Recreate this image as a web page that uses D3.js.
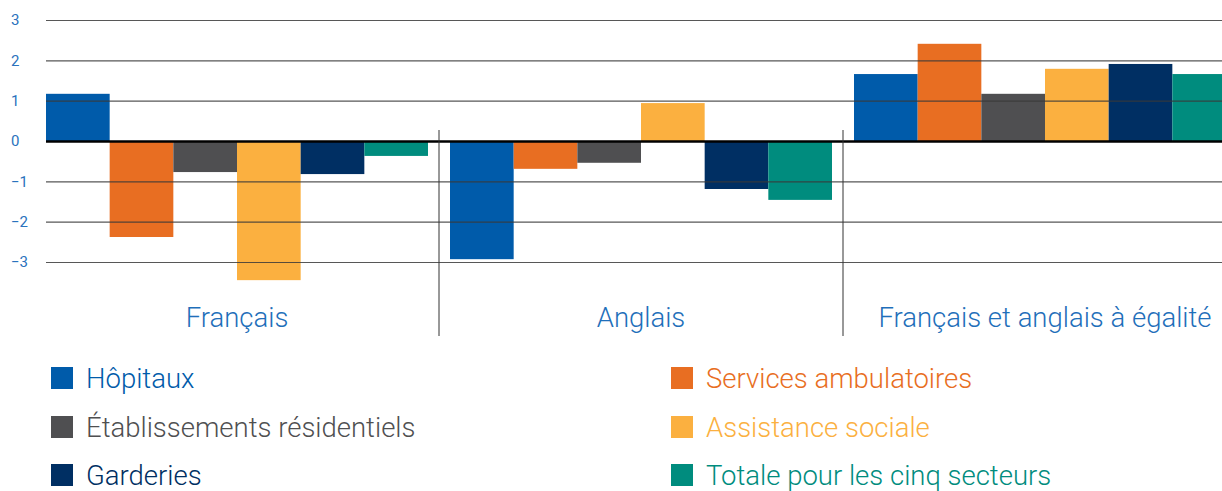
<!DOCTYPE html>
<html>
<head>
<meta charset="utf-8">
<script src="https://cdn.jsdelivr.net/npm/d3@7"></script>
<style>
  body { margin: 0; background: #fff; }
  text { font-family: Roboto, "Liberation Sans", sans-serif; }
</style>
</head>
<body>
<div id="chart"></div>
<script>
// groups along the x axis
var groups = ["Français", "Anglais", "Français et anglais à égalité"]
var series = ["Hôpitaux", "Services ambulatoires", "Établissements résidentiels",
              "Assistance sociale", "Garderies", "Totale pour les cinq secteurs"]
var colors = ["#005BAA", "#E86E22", "#4F4F51", "#FBB040", "#002F63", "#008C7E"]

// one array per series, values in group order
var hopitaux     = [1.17, -2.93, 1.66]
var ambulatoires = [-2.38, -0.69, 2.41]
var residentiels = [-0.77, -0.54, 1.17]
var assistance   = [-3.45, 0.94, 1.79]
var garderies    = [-0.82, -1.19, 1.91]
var totale       = [-0.37, -1.46, 1.66]
var yTicks = [-3, -2, -1, 0, 1, 2, 3]

var values = [hopitaux, ambulatoires, residentiels, assistance, garderies, totale]

var W = 1222, H = 491
var left = 46, right = 1222

var svg = d3.select("#chart").append("svg")
    .attr("width", W)
    .attr("height", H)

var y = d3.scaleLinear().domain([-3, 3]).range([262, 20])

var x0 = d3.scaleBand().domain(groups).range([left, 1236]).paddingInner(22 / 404)
var x1 = d3.scaleBand().domain(series).range([0, x0.bandwidth()])

var clip = svg.append("clipPath").attr("id", "plot")
  .append("rect").attr("x", 0).attr("y", 0).attr("width", right).attr("height", H)

var bars = svg.append("g").attr("clip-path", "url(#plot)")

groups.forEach(function(g, gi) {
  series.forEach(function(s, si) {
    var v = values[si][gi]
    bars.append("rect")
        .attr("x", x0(g) + x1(s))
        .attr("width", x1.bandwidth())
        .attr("y", y(Math.max(0, v)))
        .attr("height", Math.abs(y(v) - y(0)))
        .attr("fill", colors[si])
  })
})

// grid lines on top of the bars
var yAxis = d3.axisLeft(y).tickValues(yTicks).tickSize(-(right - left)).tickFormat(d3.format("d"))
var ag = svg.append("g")
    .attr("transform", "translate(" + left + ",0)")
    .call(yAxis)
ag.select(".domain").remove()
ag.selectAll(".tick line")
    .attr("stroke", function(d) { return d == 0 ? "#000" : "#3a3a3a" })
    .attr("stroke-width", function(d) { return d == 0 ? 2.5 : 1.2 })
    .attr("opacity", function(d) { return d == 0 ? 1 : 0.85 })
ag.selectAll(".tick text")
    .attr("x", -35)
    .attr("text-anchor", "start")
    .attr("fill", "#2a72bd")
    .style("font-size", "15px")

// separators between groups
for (var i = 1; i < groups.length; i++) {
  var sx = x0(groups[i]) - x0.step() * x0.paddingInner() / 2
  svg.append("line")
      .attr("x1", sx).attr("x2", sx)
      .attr("y1", 130).attr("y2", 336)
      .attr("stroke", "#333")
      .attr("stroke-width", 1)
}

// group labels
svg.selectAll(".glabel")
    .data(groups)
    .enter().append("text")
    .attr("class", "glabel")
    .attr("x", function(d) { return x0(d) + x0.bandwidth() / 2 })
    .attr("y", 327)
    .attr("text-anchor", "middle")
    .attr("fill", "#1f6fba")
    .style("font-size", "27.5px")
    .style("font-weight", 300)
    .text(function(d) { return d })

// legend, two columns
var legX = [51, 671]
var legY = [378, 427, 475]
series.forEach(function(s, i) {
  var col = i % 2, row = Math.floor(i / 2)
  var lg = svg.append("g").attr("transform", "translate(" + legX[col] + "," + legY[row] + ")")
  lg.append("rect")
      .attr("x", 0).attr("y", -11)
      .attr("width", 22).attr("height", 22)
      .attr("fill", colors[i])
  lg.append("text")
      .attr("x", 35)
      .attr("y", 9.5)
      .attr("fill", colors[i])
      .style("font-size", "27.5px")
      .style("font-weight", 300)
      .text(s)
})
</script>
</body>
</html>
